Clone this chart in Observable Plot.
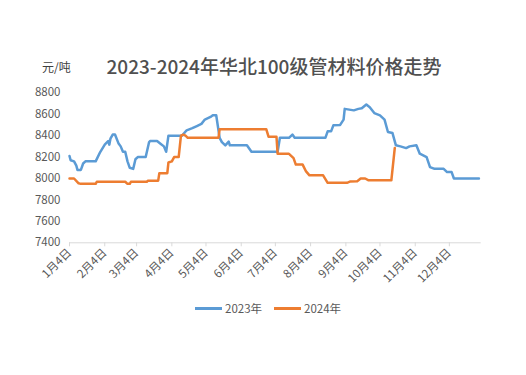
<!DOCTYPE html>
<html><head><meta charset="utf-8">
<script src="https://cdn.jsdelivr.net/npm/d3@7"></script>
<script src="https://cdn.jsdelivr.net/npm/@observablehq/plot@0.6"></script>
<style>
body{margin:0;background:#fff;font-family:"Noto Sans CJK SC","Noto Sans",sans-serif;}
#wrap{position:relative;width:526px;height:375px;overflow:hidden;}
#head{position:relative;height:75px;}
#title{position:absolute;left:0;width:548px;top:52px;text-align:center;font-size:19px;color:#505050;font-weight:500;}
#unit{position:absolute;left:42px;top:58px;font-size:12px;color:#404040;}
#legend{position:absolute;left:195px;top:300px;font-size:11.5px;color:#595959;display:flex;align-items:center;gap:0;}
#legend span.sw{display:inline-block;width:27px;height:3px;margin-right:3px;}
#legend span.lb{margin-right:12px;}
</style></head>
<body>
<div id="wrap">
  <div id="head"><div id="unit">元/吨</div><div id="title">2023-2024年华北100级管材料价格走势</div></div>
  <div id="chart"></div>
  <div id="legend"></div>
</div>
<script>
const seriesNames = ["2023年", "2024年"];
const seriesColors = ["#5B9BD5", "#ED7D31"];
const monthTicks = ["1-4","2-4","3-4","4-4","5-4","6-4","7-4","8-4","9-4","10-4","11-4","12-4"];
const yTicks = [7400, 7600, 7800, 8000, 8200, 8400, 8600, 8800];

const dates2023 = ["1-4","1-5","1-8","1-10","1-11","1-14","1-16","1-18","1-27","1-31","2-4","2-7","2-8","2-9","2-11","2-13","2-16","2-18","2-20","2-22","2-24","2-26","3-1","3-3","3-5","3-12","3-15","3-16","3-22","3-25","3-28","3-30","4-1","4-13","4-17","4-22","4-26","4-30","5-3","5-8","5-10","5-13","5-16","5-18","5-21","5-24","5-25","6-9","6-13","7-6","7-8","7-16","7-19","7-21","8-17","8-19","8-22","8-24","8-30","9-2","9-3","9-11","9-15","9-18","9-22","9-25","9-29","10-4","10-8","10-11","10-15","10-18","10-22","10-27","10-30","11-5","11-8","11-14","11-17","11-21","11-29","12-2","12-6","12-8","12-30"];
const values2023 = [8210,8170,8160,8120,8080,8080,8140,8160,8160,8247,8316,8350,8316,8372,8410,8410,8330,8300,8250,8250,8160,8100,8090,8180,8200,8200,8340,8350,8350,8325,8300,8250,8400,8400,8450,8470,8490,8510,8550,8575,8590,8590,8380,8340,8310,8345,8310,8310,8250,8250,8380,8380,8410,8380,8380,8440,8440,8496,8500,8550,8650,8636,8650,8655,8690,8665,8611,8590,8550,8434,8424,8310,8300,8284,8300,8310,8232,8200,8107,8090,8090,8060,8060,8000,8000];

const dates2024 = ["1-4","1-8","1-12","1-14","1-27","1-28","2-22","2-24","2-26","2-27","3-13","3-14","3-23","3-24","3-31","4-1","4-4","4-6","4-10","4-12","4-14","4-16","4-18","5-15","5-16","6-26","6-28","7-5","7-6","7-16","7-20","7-22","7-28","7-31","8-3","8-15","8-19","9-5","9-8","9-14","9-17","9-21","9-24","10-14","10-17"];
const values2024 = [8000,8000,7955,7950,7950,7970,7970,7950,7950,7970,7970,7980,7980,8050,8050,8150,8160,8200,8200,8400,8410,8400,8380,8380,8460,8460,8390,8390,8230,8230,8190,8130,8130,8066,8030,8030,7960,7960,7973,7975,8000,8000,7983,7983,8284];

const toDate = s => { const [m, d] = s.split("-").map(Number); return new Date(2023, m - 1, d); };
const data = [
  ...dates2023.map((d, i) => ({date: toDate(d), value: values2023[i], series: seriesNames[0]})),
  ...dates2024.map((d, i) => ({date: toDate(d), value: values2024[i], series: seriesNames[1]}))
];
const tickDates = monthTicks.map(toDate);

const chart = Plot.plot({
  width: 526,
  height: 220,
  marginLeft: 69,
  marginRight: 45.3,
  marginTop: 17.3,
  marginBottom: 52.7,
  style: {fontFamily: '"Noto Sans CJK SC", "Noto Sans", sans-serif', fontSize: "11px", color: "#595959", background: "#fff"},
  x: {type: "time", domain: [new Date(2023, 0, 4), new Date(2024, 0, 1)], label: null},
  y: {domain: [7400, 8800], label: null},
  color: {domain: seriesNames, range: seriesColors},
  marks: [
    Plot.axisY({ticks: yTicks, tickSize: 0, tickPadding: 9, tickFormat: d3.format("d"), fill: "#595959", fontSize: 11.5}),
    Plot.axisX({ticks: tickDates, tickSize: 4, tickPadding: 4, tickRotate: -45, stroke: "#d9d9d9",
      tickFormat: d => `${d.getMonth() + 1}月${d.getDate()}日`, fill: "#595959", fontSize: 11.5}),
    Plot.ruleY([7400], {stroke: "#d9d9d9"}),
    Plot.lineY(data, {x: "date", y: "value", stroke: "series", strokeWidth: 2.5, curve: "linear"})
  ]
});
document.getElementById("chart").appendChild(chart);

const lg = document.getElementById("legend");
seriesNames.forEach((n, i) => {
  const sw = document.createElement("span"); sw.className = "sw"; sw.style.background = seriesColors[i];
  const lb = document.createElement("span"); lb.className = "lb"; lb.textContent = n;
  lg.appendChild(sw); lg.appendChild(lb);
});
</script>
</body></html>
